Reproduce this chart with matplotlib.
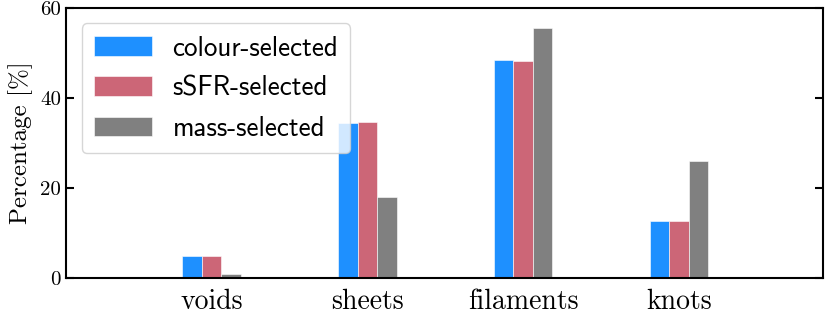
import matplotlib
matplotlib.use('Agg')
import matplotlib.pyplot as plt
import numpy as np

categories = ['voids', 'sheets', 'filaments', 'knots']
colour_selected = [5.0, 34.4, 48.4, 12.7]
ssfr_selected = [5.0, 34.7, 48.2, 12.7]
mass_selected = [0.9, 17.9, 55.6, 26.1]

series_labels = ['colour-selected', 'sSFR-selected', 'mass-selected']
colours = ['#1E90FF', '#CC6677', '#808080']

fig = plt.figure(figsize=(8.3, 3.09), dpi=100)
ax = fig.add_axes([0.0795, 0.1003, 0.912, 0.8737])

x = np.arange(len(categories))
width = 0.125
for i, (vals, lab, col) in enumerate(zip([colour_selected, ssfr_selected, mass_selected],
                                         series_labels, colours)):
    ax.bar(x + (i - 1) * width, vals, width, color=col, label=lab,
           edgecolor='white', linewidth=0.4)

ax.set_xlim(-0.935, 3.925)
ax.set_ylim(0, 60)
ax.set_xticks(x)
ax.set_xticklabels(categories, fontsize=20, family='cmr10')
ax.set_yticks([0, 20, 40, 60])
ax.set_yticklabels(['0', '20', '40', '60'], fontsize=15, family='cmr10')
ax.set_ylabel('Percentage [%]', fontsize=18, family='cmr10', labelpad=5)

ax.tick_params(axis='y', direction='in', length=6, width=1.5, right=True, left=True)
ax.tick_params(axis='x', length=0, pad=8)
for s in ax.spines.values():
    s.set_linewidth(1.5)

ax.legend(loc='upper left', prop={'family': 'cmss10', 'size': 19.5},
          handlelength=2.15, handleheight=0.75,
          borderpad=0.45, labelspacing=0.56, handletextpad=0.75,
          bbox_to_anchor=(0.003, 0.993), framealpha=0.8)

fig.savefig('out.png', dpi=100)
